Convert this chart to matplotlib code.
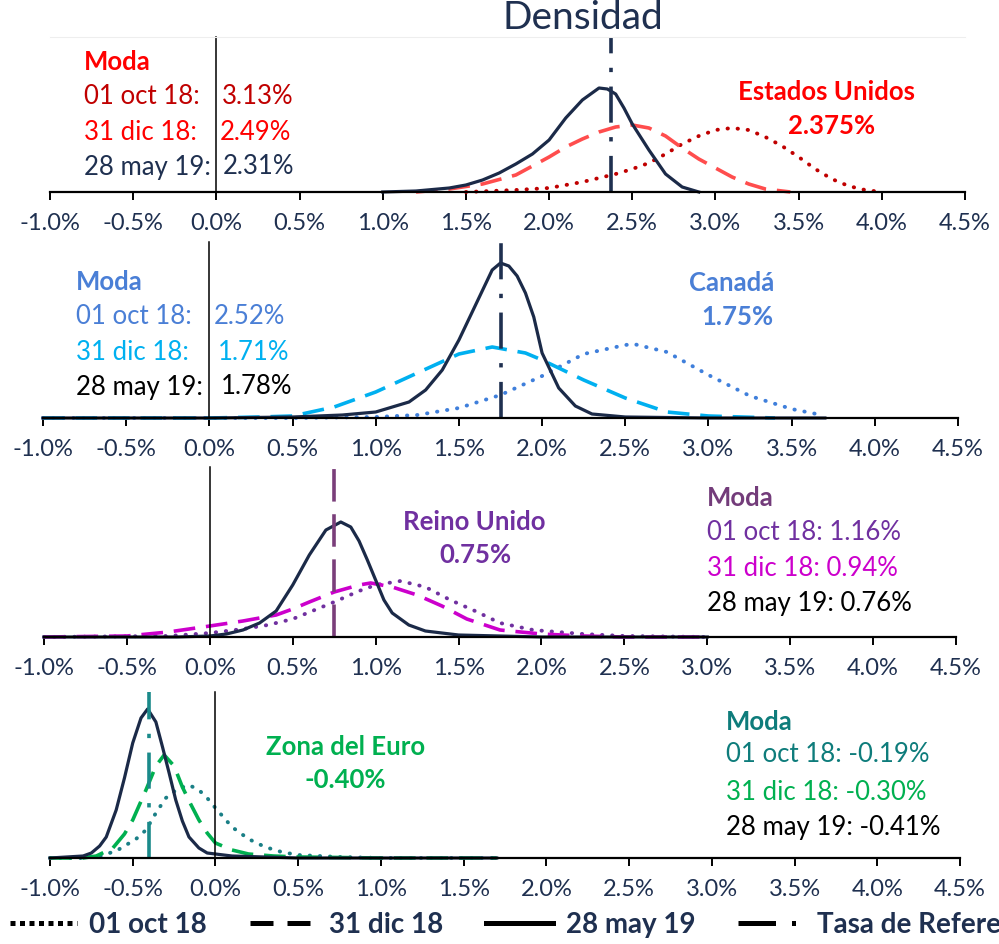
import numpy as np
import matplotlib.pyplot as plt
from matplotlib.lines import Line2D

plt.rcParams['font.family'] = ['Lato', 'DejaVu Sans']

W, H = 999, 944
navy = '#1F3050'
curve_navy = '#1B2A48'

# x in %, y = relative density
# ---- Estados Unidos
us_x_may = [1.0, 1.2, 1.4, 1.5, 1.6, 1.7, 1.8, 1.9, 2.0, 2.1, 2.2, 2.3, 2.35, 2.4, 2.45, 2.5, 2.6, 2.7, 2.8, 2.9]
us_y_may = [0, 1, 4, 7, 12, 19, 28, 38, 52, 74, 92, 104, 103, 98, 84, 68, 42, 18, 5, 0]
us_x_dic = [1.2, 1.4, 1.6, 1.8, 2.0, 2.1, 2.2, 2.3, 2.4, 2.5, 2.6, 2.7, 2.8, 2.9, 3.0, 3.1, 3.2, 3.3, 3.4, 3.45]
us_y_dic = [0, 3, 8, 17, 35, 45, 53, 60, 65, 67, 64, 56, 44, 33, 24, 15, 8, 3, 1, 0]
us_x_oct = [1.5, 1.8, 2.0, 2.2, 2.4, 2.5, 2.6, 2.7, 2.8, 2.9, 3.0, 3.1, 3.2, 3.3, 3.4, 3.5, 3.6, 3.7, 3.8, 3.9, 4.0]
us_y_oct = [0, 2, 4, 10, 18, 23, 29, 38, 48, 56, 62, 64, 62, 55, 46, 35, 23, 13, 6, 2, 0]

# ---- Canada
ca_x_may = [-1.0, 0.0, 0.5, 0.8, 1.0, 1.2, 1.3, 1.4, 1.5, 1.6, 1.7, 1.75, 1.8, 1.85, 1.9, 1.95, 2.0, 2.1, 2.2, 2.3, 2.5, 3.0, 3.7]
ca_y_may = [0, 0, 1, 3, 6, 16, 28, 48, 78, 113, 148, 155, 152, 142, 125, 101, 65, 30, 12, 4, 1, 0, 0]
ca_x_dic = [-1.0, 0.0, 0.3, 0.5, 0.75, 1.0, 1.25, 1.5, 1.7, 1.9, 2.0, 2.25, 2.5, 2.75, 3.0, 3.4]
ca_y_dic = [0, 0, 1, 2, 11, 26, 45, 64, 71, 65, 58, 38, 20, 6, 2, 0]
ca_x_oct = [-1.0, 0.5, 1.0, 1.25, 1.5, 1.75, 2.0, 2.25, 2.5, 2.55, 2.75, 3.0, 3.25, 3.5, 3.65]
ca_y_oct = [0, 0, 1, 3, 10, 23, 42, 64, 73, 74, 66, 43, 22, 9, 4]

# ---- Reino Unido
uk_x_may = [-1.0, -0.2, 0.0, 0.1, 0.2, 0.3, 0.4, 0.5, 0.6, 0.7, 0.79, 0.85, 0.9, 0.95, 1.0, 1.05, 1.1, 1.2, 1.3, 1.5, 1.75, 2.0, 3.0]
uk_y_may = [0, 0, 1, 3, 7, 14, 26, 52, 82, 107, 115, 110, 96, 77, 57, 37, 24, 12, 6, 2, 1, 0, 0]
uk_x_dic = [-1.0, -0.5, -0.25, 0.0, 0.2, 0.4, 0.5, 0.6, 0.75, 0.9, 0.97, 1.1, 1.25, 1.4, 1.55, 1.75, 2.0, 2.25, 2.5, 3.0]
uk_y_dic = [0, 1, 5, 11, 16, 22, 28, 35, 45, 52, 54, 50, 42, 31, 18, 7, 3, 1, 0, 0]
uk_x_oct = [-1.0, -0.25, 0.0, 0.2, 0.35, 0.5, 0.75, 0.9, 1.0, 1.15, 1.3, 1.45, 1.6, 1.75, 1.95, 2.25, 2.5, 3.0]
uk_y_oct = [0, 1, 4, 8, 12, 18, 35, 46, 52, 56, 50, 37, 26, 14, 7, 3, 1, 0]

# ---- Zona del Euro
ez_x_may = [-1.0, -0.8, -0.75, -0.7, -0.66, -0.6, -0.55, -0.5, -0.45, -0.41, -0.36, -0.32, -0.28, -0.24, -0.2, -0.16, -0.1, -0.05, 0.1, 0.5, 1.7]
ez_y_may = [0, 2, 5, 12, 21, 48, 80, 115, 140, 149, 136, 111, 85, 58, 37, 21, 10, 5, 2, 0, 0]
ez_x_dic = [-1.0, -0.8, -0.72, -0.62, -0.55, -0.5, -0.42, -0.36, -0.31, -0.25, -0.2, -0.15, -0.1, -0.05, 0.0, 0.1, 0.2, 0.35, 0.5, 1.0, 1.7]
ez_y_dic = [0, 0, 2, 10, 24, 38, 68, 92, 103, 92, 71, 54, 38, 25, 15, 8, 4, 2, 1, 0, 0]
ez_x_oct = [-1.0, -0.8, -0.7, -0.6, -0.54, -0.48, -0.42, -0.36, -0.3, -0.23, -0.16, -0.1, -0.05, 0.0, 0.1, 0.2, 0.3, 0.4, 0.5, 0.75, 1.0, 1.7]
ez_y_oct = [0, 0, 2, 7, 13, 19, 28, 45, 60, 69, 73, 68, 60, 50, 31, 19, 11, 6, 3, 1, 0, 0]

ref_rates = [2.375, 1.75, 0.75, -0.40]
ticks = np.arange(-1.0, 4.51, 0.5)
tick_labels = [f'{t:.1f}%' for t in ticks]

dotted = (0, (0.1, 2.5))
dashed = (0, (6, 3))
dashdot = (0, (10, 4, 1.2, 4))

# axes boxes in pixels: left, right, top, bottom
boxes = [(50, 965, 37, 192), (43, 958, 242, 418), (44, 956, 467, 637), (50, 960, 692, 858)]

panels = [
    dict(oct=(us_x_oct, us_y_oct, '#C00000'), dic=(us_x_dic, us_y_dic, '#FF4D4D'),
         may=(us_x_may, us_y_may), ref=(navy, dashdot)),
    dict(oct=(ca_x_oct, ca_y_oct, '#3F7FDB'), dic=(ca_x_dic, ca_y_dic, '#00B0F0'),
         may=(ca_x_may, ca_y_may), ref=(navy, dashdot)),
    dict(oct=(uk_x_oct, uk_y_oct, '#7030A0'), dic=(uk_x_dic, uk_y_dic, '#CC00CC'),
         may=(uk_x_may, uk_y_may), ref=('#7A3E7A', (0, (9, 3.5)))),
    dict(oct=(ez_x_oct, ez_y_oct, '#1A7F86'), dic=(ez_x_dic, ez_y_dic, '#00B050'),
         may=(ez_x_may, ez_y_may), ref=('#1A8A8A', dashdot)),
]

fig = plt.figure(figsize=(W / 100, H / 100), dpi=100)

for i, (p, b) in enumerate(zip(panels, boxes)):
    l, r, t, bt = b
    ax = fig.add_axes([l / W, 1 - bt / H, (r - l) / W, (bt - t) / H])
    ax.set_xlim(-1.0, 4.5)
    ax.set_ylim(0, bt - t)
    x, y, c = p['oct']
    ax.plot(x, y, color=c, lw=2.8, ls=dotted, dash_capstyle='round', clip_on=False)
    x, y, c = p['dic']
    ax.plot(x, y, color=c, lw=2.6, ls=dashed, clip_on=False)
    x, y = p['may']
    ax.plot(x, y, color=curve_navy, lw=2.3, clip_on=False)
    ax.axvline(ref_rates[i], color=p['ref'][0], lw=2.6, ls=p['ref'][1])

    ax.set_xticks(ticks)
    ax.set_xticklabels(tick_labels, fontsize=17, color=navy)
    ax.tick_params(axis='x', length=6, width=1.4, pad=9, color='black')
    ax.set_yticks([])
    ax.spines['bottom'].set_linewidth(1.6)
    ax.spines['left'].set_position(('data', 0))
    ax.spines['left'].set_linewidth(1.1)
    ax.spines['right'].set_visible(False)
    if i == 0:
        ax.spines['top'].set_color('#EEEEEE')
        ax.spines['top'].set_linewidth(0.8)
    else:
        ax.spines['top'].set_visible(False)
    ax.patch.set_alpha(0)


def txt(x, y, s, color, bold=False, ha='left', size=18.5):
    fig.text(x / W, 1 - y / H, s, color=color, ha=ha, va='center', fontsize=size,
             fontweight='bold' if bold else 'normal')


fig.text(583 / W, 1 - 18 / H, 'Densidad', ha='center', va='center', fontsize=28, color=navy)

# Estados Unidos
txt(84, 62, 'Moda', '#FF0000', bold=True)
txt(84, 97, '01 oct 18:', '#C00000'); txt(222, 97, '3.13%', '#C00000')
txt(84, 132, '31 dic 18:', '#FF0000'); txt(220, 132, '2.49%', '#FF0000')
txt(84, 167, '28 may 19:', navy); txt(223, 167, '2.31%', navy)
txt(827, 92, 'Estados Unidos', '#FF0000', bold=True, ha='center')
txt(832, 126, '2.375%', '#FF0000', bold=True, ha='center')

# Canadá
blue = '#4A7FD6'
txt(76, 282, 'Moda', blue, bold=True)
txt(76, 317, '01 oct 18:', blue); txt(214, 317, '2.52%', blue)
txt(76, 352, '31 dic 18:', '#00B0F0'); txt(218, 352, '1.71%', '#00B0F0')
txt(76, 387, '28 may 19:', 'black'); txt(221, 387, '1.78%', 'black')
txt(732, 283, 'Canadá', blue, bold=True, ha='center')
txt(737, 317, '1.75%', blue, bold=True, ha='center')

# Reino Unido
txt(474, 522, 'Reino Unido', '#7030A0', bold=True, ha='center')
txt(475, 555, '0.75%', '#7030A0', bold=True, ha='center')
txt(707, 498, 'Moda', '#733C7A', bold=True)
txt(707, 533, '01 oct 18: 1.16%', '#7030A0')
txt(707, 568, '31 dic 18: 0.94%', '#CC00CC')
txt(707, 603, '28 may 19: 0.76%', 'black')

# Zona del Euro
txt(346, 747, 'Zona del Euro', '#00B050', bold=True, ha='center')
txt(345, 780, '-0.40%', '#00B050', bold=True, ha='center')
txt(726, 722, 'Moda', '#0E7C7B', bold=True)
txt(726, 755, '01 oct 18: -0.19%', '#0E7C7B')
txt(726, 792, '31 dic 18: -0.30%', '#00B050')
txt(726, 827, '28 may 19: -0.41%', 'black')

handles = [
    Line2D([], [], color='black', lw=3.6, ls=(0, (1, 0.9))),
    Line2D([], [], color='black', lw=3.6, ls=(0, (4.6, 2.8))),
    Line2D([], [], color='black', lw=3.6),
    Line2D([], [], color='black', lw=3.6, ls=(0, (7.5, 3.2, 0.8, 3))),
]
labels = ['01 oct 18', '31 dic 18', '28 may 19', 'Tasa de Referencia']
leg = fig.legend(handles, labels, ncol=4, loc='center left', bbox_to_anchor=(-0.015, 1 - 925 / H),
                 frameon=False, handlelength=2.4, handletextpad=0.45, columnspacing=1.55,
                 prop={'weight': 'bold', 'size': 20})
for tx in leg.get_texts():
    tx.set_color(navy)

fig.savefig('out.png', dpi=100)
